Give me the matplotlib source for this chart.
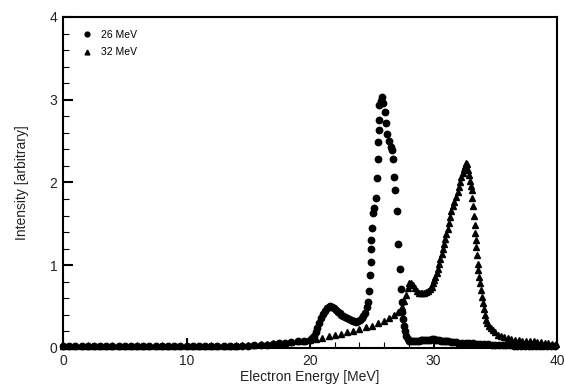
import matplotlib
matplotlib.use("Agg")
import matplotlib.pyplot as plt
from matplotlib.ticker import MultipleLocator

plt.rcParams['font.family'] = ['Liberation Sans', 'DejaVu Sans']

# baseline energies 0 .. 19.5 MeV (both spectra)
e_base = [0.0, 0.5, 1.0, 1.5, 2.0, 2.5, 3.0, 3.5, 4.0, 4.5, 5.0, 5.5, 6.0, 6.5,
          7.0, 7.5, 8.0, 8.5, 9.0, 9.5, 10.0, 10.5, 11.0, 11.5, 12.0, 12.5,
          13.0, 13.5, 14.0, 14.5, 15.0, 15.5, 16.0, 16.5, 17.0, 17.5, 18.0,
          18.5, 19.0, 19.5]

# 26 MeV spectrum (circles)
i26_base = [0.03, 0.03, 0.03, 0.03, 0.03, 0.03, 0.03, 0.025, 0.025, 0.025,
            0.025, 0.025, 0.025, 0.025, 0.025, 0.025, 0.025, 0.025, 0.025,
            0.025, 0.025, 0.025, 0.025, 0.025, 0.025, 0.025, 0.025, 0.025,
            0.03, 0.03, 0.03, 0.035, 0.035, 0.04, 0.05, 0.055, 0.06, 0.07,
            0.08, 0.09]
e26_peak = [20.0, 20.15, 20.3, 20.45, 20.6, 20.75, 20.9, 21.05, 21.2, 21.35,
            21.5, 21.65, 21.8, 21.95, 22.1, 22.25, 22.4, 22.55, 22.7, 22.85,
            23.0, 23.15, 23.3, 23.45, 23.6, 23.75, 23.9, 24.05, 24.2, 24.3,
            24.42, 24.6, 24.69, 24.8, 24.88, 24.91, 24.94, 24.96, 24.99, 25.1,
            25.2, 25.38, 25.45, 25.5, 25.53, 25.55, 25.57, 25.6, 25.75, 25.85,
            25.95, 26.05, 26.15, 26.26, 26.4, 26.53, 26.65, 26.75, 26.8, 26.86,
            27.07, 27.15, 27.26, 27.34, 27.42, 27.48, 27.55, 27.62, 27.7, 27.8,
            27.9, 28.05, 28.2, 28.35, 28.5, 28.65, 28.8, 28.95, 29.1, 29.25,
            29.4, 29.55, 29.7, 29.85, 30.0, 30.15, 30.3, 30.45, 30.6, 30.75,
            30.9, 31.05, 31.2, 31.4, 31.6, 31.8, 32.0, 32.3, 32.6, 32.9, 33.2,
            33.5, 33.8, 34.1, 34.4, 34.7, 35.0, 35.3, 35.6, 35.9, 36.2, 36.5,
            36.8, 37.1, 37.4, 37.7, 38.0, 38.3, 38.6, 38.9, 39.2, 39.5, 39.8]
i26_peak = [0.10, 0.12, 0.15, 0.19, 0.24, 0.30, 0.36, 0.41, 0.45, 0.48,
            0.50, 0.51, 0.50, 0.48, 0.46, 0.44, 0.42, 0.40, 0.39, 0.37,
            0.36, 0.35, 0.34, 0.33, 0.33, 0.32, 0.33, 0.34, 0.36, 0.39,
            0.42, 0.49, 0.55, 0.69, 0.88, 1.04, 1.20, 1.31, 1.45, 1.63,
            1.69, 1.81, 2.05, 2.28, 2.49, 2.63, 2.76, 2.94, 2.98, 3.03,
            2.96, 2.85, 2.72, 2.59, 2.50, 2.43, 2.39, 2.29, 2.07, 1.91,
            1.66, 1.26, 0.95, 0.71, 0.56, 0.44, 0.35, 0.27, 0.20, 0.15,
            0.11, 0.09, 0.08, 0.08, 0.085, 0.09, 0.09, 0.095, 0.10, 0.10,
            0.10, 0.10, 0.10, 0.105, 0.105, 0.10, 0.10, 0.095, 0.09, 0.09,
            0.085, 0.08, 0.08, 0.075, 0.07, 0.07, 0.065, 0.06, 0.06, 0.055, 0.055,
            0.05, 0.05, 0.045, 0.045, 0.04, 0.04, 0.04, 0.035, 0.035, 0.035, 0.03,
            0.03, 0.03, 0.03, 0.025, 0.025, 0.025, 0.025, 0.02, 0.02, 0.02, 0.02]

# 32 MeV spectrum (triangles)
i32_base = [0.03, 0.03, 0.03, 0.03, 0.03, 0.03, 0.03, 0.03, 0.03, 0.03,
            0.03, 0.03, 0.03, 0.03, 0.03, 0.03, 0.03, 0.03, 0.03, 0.03,
            0.03, 0.03, 0.03, 0.03, 0.03, 0.03, 0.03, 0.03, 0.03, 0.035,
            0.035, 0.04, 0.045, 0.05, 0.055, 0.06, 0.065, 0.075, 0.085, 0.09]
e32_peak = [20.0, 20.5, 21.0, 21.5, 22.0, 22.5, 23.0, 23.5, 24.0, 24.5, 25.0,
            25.5, 26.0, 26.4, 26.8, 27.1, 27.3, 27.45, 27.6, 27.75, 27.9,
            28.05, 28.2, 28.35, 28.5, 28.65, 28.8, 28.95, 29.1, 29.25, 29.4,
            29.55, 29.7, 29.85, 29.95, 30.05, 30.15, 30.25, 30.35, 30.45,
            30.55, 30.65, 30.75, 30.85, 30.95, 31.05, 31.15, 31.25, 31.35,
            31.45, 31.55, 31.7, 31.85, 31.95, 32.05, 32.15, 32.25, 32.35,
            32.45, 32.55, 32.65, 32.72, 32.8, 32.88, 32.95, 33.02, 33.08,
            33.14, 33.2, 33.26, 33.32, 33.38, 33.43, 33.48, 33.53, 33.57,
            33.63, 33.69, 33.75, 33.82, 33.9, 33.97, 34.05, 34.15, 34.24,
            34.35, 34.5, 34.65, 34.8, 35.0, 35.2, 35.45, 35.7, 36.0, 36.3,
            36.6, 36.9, 37.2, 37.5, 37.8, 38.1, 38.4, 38.7, 39.0, 39.3, 39.6,
            39.9]
i32_peak = [0.10, 0.11, 0.12, 0.14, 0.155, 0.17, 0.19, 0.21, 0.23, 0.25, 0.27,
            0.30, 0.33, 0.36, 0.40, 0.43, 0.45, 0.50, 0.57, 0.64, 0.72,
            0.78, 0.79, 0.76, 0.72, 0.69, 0.67, 0.66, 0.66, 0.67, 0.68,
            0.69, 0.71, 0.74, 0.78, 0.82, 0.86, 0.91, 0.96, 1.02,
            1.08, 1.14, 1.20, 1.26, 1.32, 1.38, 1.44, 1.51, 1.58,
            1.65, 1.71, 1.77, 1.83, 1.88, 1.95, 2.01, 2.07, 2.12,
            2.16, 2.20, 2.23, 2.22, 2.15, 2.09, 2.02, 1.96, 1.91,
            1.81, 1.71, 1.60, 1.49, 1.39, 1.31, 1.22, 1.12, 1.02,
            0.94, 0.86, 0.78, 0.70, 0.62, 0.54, 0.47, 0.40, 0.34,
            0.30, 0.27, 0.24, 0.22, 0.19, 0.16, 0.14, 0.13, 0.12, 0.11,
            0.10, 0.10, 0.09, 0.09, 0.08, 0.08, 0.07, 0.07, 0.06, 0.06, 0.05,
            0.05]

e26 = e_base + e26_peak
i26 = i26_base + i26_peak
e32 = e_base + e32_peak
i32 = i32_base + i32_peak

fig = plt.figure(figsize=(5.64, 3.89), dpi=100)
ax = fig.add_axes([0.1117, 0.1054, 0.8759, 0.8509])

ax.plot(e26, i26, linestyle='none', marker='o', markersize=4.6,
        color='black', label='26 MeV', clip_on=False)
ax.plot(e32, i32, linestyle='none', marker='^', markersize=4.6,
        color='black', label='32 MeV', clip_on=False)

ax.set_xlim(0, 40)
ax.set_ylim(0, 4)
ax.xaxis.set_major_locator(MultipleLocator(10))
ax.xaxis.set_minor_locator(MultipleLocator(2))
ax.yaxis.set_major_locator(MultipleLocator(1))
ax.yaxis.set_minor_locator(MultipleLocator(0.2))
ax.tick_params(which='major', direction='in', length=7, width=1.5,
               labelsize=10, colors='black', labelcolor='#222222', pad=4)
ax.tick_params(which='minor', direction='in', length=4, width=0.8)
for s in ax.spines.values():
    s.set_linewidth(1.5)

ax.set_xlabel('Electron Energy [MeV]', fontsize=10, color='#222222', labelpad=2)
ax.set_ylabel('Intensity [arbitrary]', fontsize=10, color='#222222', labelpad=15)

ax.legend(loc='upper left', bbox_to_anchor=(0.02, 0.99), frameon=False,
          fontsize=7.5, markerscale=0.75, handlelength=1.0, handletextpad=0.8,
          labelspacing=0.75)

fig.savefig('out.png', dpi=100)
